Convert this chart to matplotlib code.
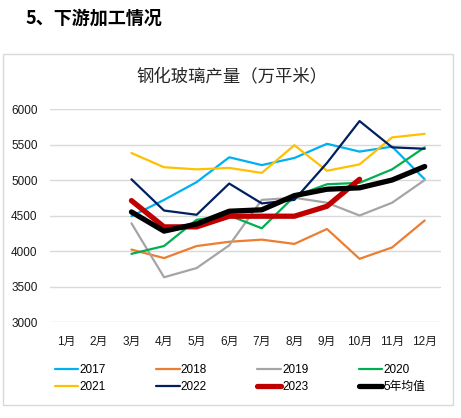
from matplotlib import pyplot as plt
from matplotlib.patches import Rectangle

plt.rcParams['font.family'] = ['Liberation Sans', 'Noto Sans CJK SC']

MONTHS = [f"{m}月" for m in range(1, 13)]
SERIES_NAMES = ['2017', '2018', '2019', '2020', '2021', '2022', '2023', '5年均值']

# values start at 3月 (index 2)
Y2017 = [4490, 4720, 4970, 5320, 5210, 5310, 5510, 5400, 5470, 5010]
Y2018 = [4020, 3900, 4070, 4130, 4160, 4100, 4310, 3890, 4050, 4430]
Y2019 = [4390, 3630, 3760, 4080, 4720, 4750, 4680, 4500, 4680, 5000]
Y2020 = [3960, 4070, 4440, 4500, 4320, 4770, 4940, 4960, 5150, 5460]
Y2021 = [5380, 5180, 5150, 5170, 5100, 5490, 5130, 5220, 5600, 5650]
Y2022 = [5010, 4570, 4510, 4950, 4670, 4720, 5240, 5830, 5460, 5440]
Y2023 = [4710, 4340, 4340, 4490, 4490, 4490, 4630, 5010]
Y_AVG = [4550, 4280, 4380, 4560, 4580, 4780, 4870, 4890, 5000, 5190]

COLORS = ['#00B0F0', '#ED7D31', '#A5A5A5', '#00B050', '#FFC000', '#002060', '#C00000', '#000000']
WIDTHS = [1.6, 1.6, 1.6, 1.6, 1.6, 1.6, 3.8, 3.8]


def run():
    fig = plt.figure(figsize=(4.61, 4.18), dpi=100)
    fig.patches.append(Rectangle((3 / 461, 1 - 405 / 418), 450 / 461, 351 / 418,
                                 transform=fig.transFigure, fill=False,
                                 edgecolor='#D9D9D9', linewidth=1.0))
    fig.text(25 / 461, 1 - 18 / 418, "5、下游加工情况", fontsize=13, fontweight='bold',
             va='center', ha='left', family=['Noto Sans CJK SC'])
    fig.text(232 / 461, 1 - 76 / 418, "钢化玻璃产量（万平米）", fontsize=12.5,
             va='center', ha='center', color='#262626', family=['Noto Sans CJK SC'])

    ax = fig.add_axes([50 / 461, 1 - 322 / 418, 391 / 461, 213 / 418])
    data = [Y2017, Y2018, Y2019, Y2020, Y2021, Y2022, Y2023, Y_AVG]
    lines = []
    for name, ys, c, w in zip(SERIES_NAMES, data, COLORS, WIDTHS):
        xs = list(range(2, 2 + len(ys)))
        ln, = ax.plot(xs, ys, color=c, linewidth=w, label=name,
                      solid_capstyle='round', zorder=3 if w > 2 else 2)
        lines.append(ln)

    ax.set_xlim(-0.5, 11.5)
    ax.set_ylim(3000, 6000)
    ax.set_yticks(range(3000, 6001, 500))
    ax.set_xticks(range(12))
    ax.set_xticklabels(MONTHS)
    ax.grid(axis='y', color='#D9D9D9', linewidth=1.0)
    ax.set_axisbelow(True)
    for s in ax.spines.values():
        s.set_visible(False)
    ax.tick_params(length=0, labelsize=8.5, colors='#1a1a1a')
    ax.tick_params(axis='x', pad=10)
    ax.tick_params(axis='y', pad=9)

    order = [0, 4, 1, 5, 2, 6, 3, 7]
    fig.legend([lines[i] for i in order], [SERIES_NAMES[i] for i in order],
               ncol=4, loc='lower left', mode='expand',
               bbox_to_anchor=(50 / 461, 1 - 398 / 418, 380 / 461, 40 / 418),
               frameon=False, fontsize=8.5, handlelength=2.0, handletextpad=0.1,
               labelspacing=0.45, borderaxespad=0)
    fig.savefig('out.png', dpi=100)


if __name__ == "__main__":
    run()
